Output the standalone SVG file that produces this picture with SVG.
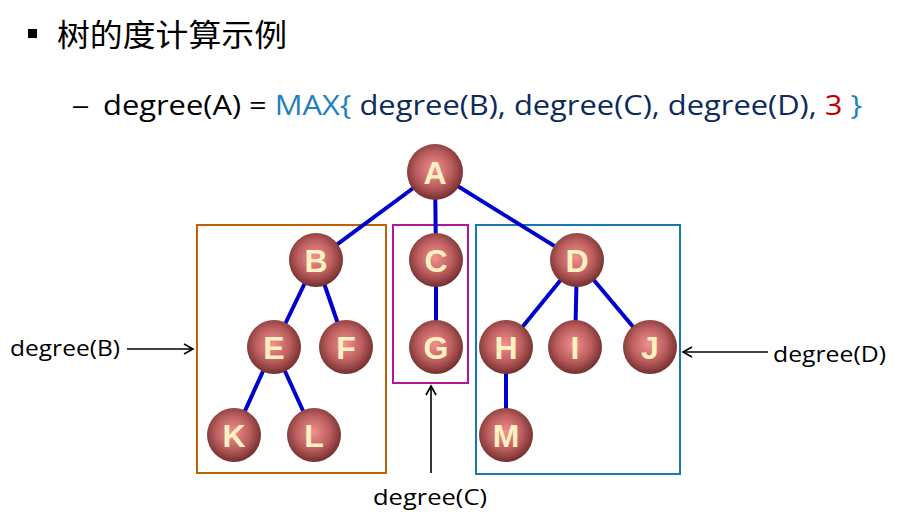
<svg xmlns="http://www.w3.org/2000/svg" width="904" height="517" viewBox="0 0 904 517">
<defs>
<radialGradient id="ball" cx="0.48" cy="0.45" r="0.58">
<stop offset="0" stop-color="#f49090"/>
<stop offset="0.55" stop-color="#bc5e5e"/>
<stop offset="1" stop-color="#6a2828"/>
</radialGradient>
<marker id="arr" markerWidth="12" markerHeight="12" refX="10" refY="6" orient="auto" markerUnits="userSpaceOnUse">
<path d="M1,1 L10,6 L1,11" fill="none" stroke="#000" stroke-width="1.6"/>
</marker>
</defs>
<style>
.node circle{fill:url(#ball);}
.node text{font-family:"Liberation Sans",Arial,sans-serif;font-weight:bold;font-size:32px;fill:#fff2c0;text-anchor:middle;}
.edge{stroke:#0000cc;stroke-width:4;}
.lbl{font-family:"Open Sans","Noto Sans",sans-serif;font-size:22px;fill:#000;}
.ptr{stroke:#000;stroke-width:1.6;fill:none;marker-end:url(#arr);}
.box{fill:none;stroke-width:2;}
</style>
<rect width="904" height="517" fill="#fff"/>
<rect x="28" y="29" width="9" height="9" fill="#000"/>
<text x="57" y="46" font-family="'Noto Sans CJK SC',sans-serif" font-size="31" fill="#000" textLength="230" lengthAdjust="spacingAndGlyphs">树的度计算示例</text>
<text x="73" y="114" font-family="'Liberation Sans',Arial,sans-serif" font-size="28" fill="#000" textLength="15" lengthAdjust="spacingAndGlyphs">–</text>
<text x="103" y="115" font-family="'Open Sans','Noto Sans',sans-serif" font-size="28" fill="#000" textLength="759" lengthAdjust="spacingAndGlyphs">degree(A) = <tspan fill="#1f7fc0">MAX{ </tspan><tspan fill="#0c2a5c">degree(B), degree(C), degree(D), </tspan><tspan fill="#c00000">3 </tspan><tspan fill="#1f7fc0">}</tspan></text>
<g id="boxes">
<rect id="boxB" class="box" x="197" y="225" width="189" height="248" stroke="#c0600a"/>
<rect id="boxC" class="box" x="393" y="225" width="75" height="158" stroke="#b0169a"/>
<rect id="boxD" class="box" x="476" y="225" width="204" height="249" stroke="#1a78b0"/>
</g>
<g id="connectors">
<line class="edge" x1="435" y1="172" x2="316" y2="260"/>
<line class="edge" x1="435" y1="172" x2="436" y2="260"/>
<line class="edge" x1="435" y1="172" x2="577" y2="260"/>
<line class="edge" x1="316" y1="260" x2="274" y2="347"/>
<line class="edge" x1="316" y1="260" x2="346" y2="347"/>
<line class="edge" x1="274" y1="347" x2="234" y2="435"/>
<line class="edge" x1="274" y1="347" x2="314" y2="435"/>
<line class="edge" x1="436" y1="260" x2="436" y2="347"/>
<line class="edge" x1="577" y1="260" x2="506" y2="347"/>
<line class="edge" x1="577" y1="260" x2="575" y2="347"/>
<line class="edge" x1="577" y1="260" x2="650" y2="347"/>
<line class="edge" x1="506" y1="347" x2="506" y2="435"/>
<line class="ptr" x1="127" y1="349" x2="193" y2="349"/>
<line class="ptr" x1="768" y1="352" x2="683" y2="352"/>
<line class="ptr" x1="431" y1="473" x2="431" y2="386"/>
</g>
<g id="A" class="node"><circle cx="435" cy="172" r="28"/><text x="435" y="184">A</text></g>
<g id="B" class="node"><circle cx="316" cy="260" r="27"/><text x="316" y="272">B</text></g>
<g id="C" class="node"><circle cx="436" cy="260" r="27"/><text x="436" y="272">C</text></g>
<g id="D" class="node"><circle cx="577" cy="260" r="27"/><text x="577" y="272">D</text></g>
<g id="E" class="node"><circle cx="274" cy="347" r="27"/><text x="274" y="359">E</text></g>
<g id="F" class="node"><circle cx="346" cy="347" r="27"/><text x="346" y="359">F</text></g>
<g id="G" class="node"><circle cx="436" cy="347" r="27"/><text x="436" y="359">G</text></g>
<g id="H" class="node"><circle cx="506" cy="347" r="27"/><text x="506" y="359">H</text></g>
<g id="I" class="node"><circle cx="575" cy="347" r="27"/><text x="575" y="359">I</text></g>
<g id="J" class="node"><circle cx="650" cy="347" r="27"/><text x="650" y="359">J</text></g>
<g id="K" class="node"><circle cx="234" cy="435" r="27"/><text x="234" y="447">K</text></g>
<g id="L" class="node"><circle cx="314" cy="435" r="27"/><text x="314" y="447">L</text></g>
<g id="M" class="node"><circle cx="506" cy="435" r="27"/><text x="506" y="447">M</text></g>
<text class="lbl" x="10" y="356" textLength="110" lengthAdjust="spacingAndGlyphs">degree(B)</text>
<text class="lbl" x="773" y="362" textLength="113" lengthAdjust="spacingAndGlyphs">degree(D)</text>
<text class="lbl" x="373" y="505" textLength="114" lengthAdjust="spacingAndGlyphs">degree(C)</text>
</svg>
